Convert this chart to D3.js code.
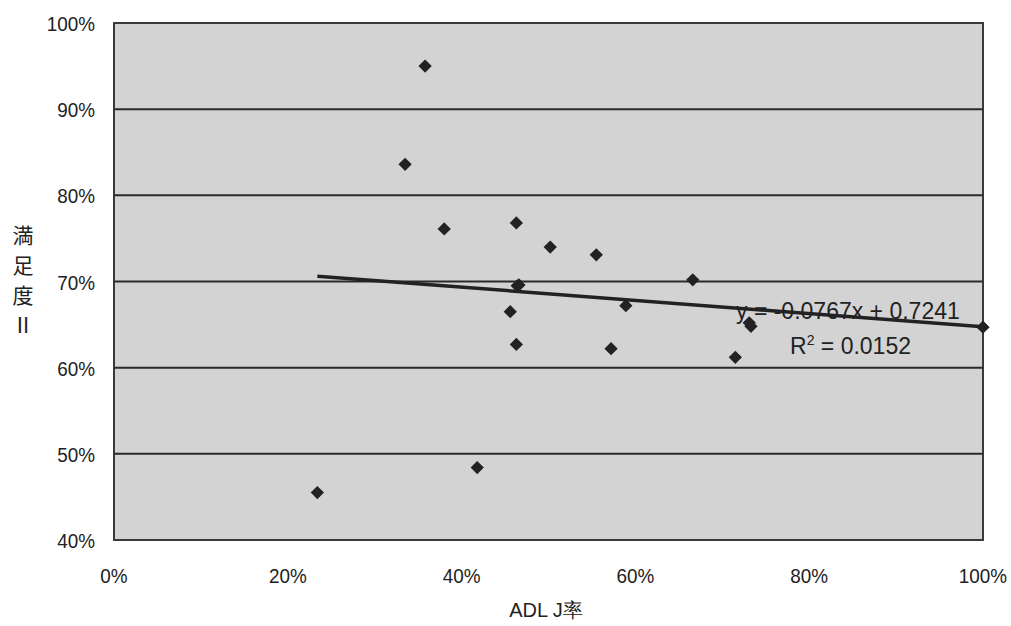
<!DOCTYPE html>
<html>
<head>
<meta charset="utf-8">
<script src="https://cdn.jsdelivr.net/npm/d3@7.9.0/dist/d3.min.js"></script>
<style>
  body { margin: 0; background: #fff; }
  text { font-family: "Liberation Sans", Arial, sans-serif; fill: #222; }
</style>
</head>
<body>
<svg id="chart" width="1011" height="626"></svg>
<script>
// ADL J rate (x) vs satisfaction II (y)
const adlRate = [0.358, 0.335, 0.380, 0.463, 0.502, 0.555, 0.666, 0.464, 0.466,
                 0.589, 0.456, 0.463, 0.572, 0.731, 0.733, 0.715, 1.000, 0.418, 0.234];
const satisfaction = [0.950, 0.836, 0.761, 0.768, 0.740, 0.731, 0.702, 0.695, 0.696,
                      0.672, 0.665, 0.627, 0.622, 0.652, 0.648, 0.612, 0.647, 0.484, 0.455];
const xTicks = [0, 0.2, 0.4, 0.6, 0.8, 1.0];
const yTicks = [0.4, 0.5, 0.6, 0.7, 0.8, 0.9, 1.0];
const slope = -0.0767, intercept = 0.7241;
const eqLabel = 'y = -0.0767x + 0.7241';

const svg = d3.select('#chart');
const plotLeft = 114, plotRight = 983, plotTop = 23, plotBottom = 540;

const x = d3.scaleLinear().domain([0, 1]).range([plotLeft, plotRight]);
const y = d3.scaleLinear().domain([0.4, 1]).range([plotBottom, plotTop]);
const pct = d3.format('.0%');

// plot background
svg.append('rect')
    .attr('x', plotLeft).attr('y', plotTop)
    .attr('width', plotRight - plotLeft).attr('height', plotBottom - plotTop)
    .attr('fill', '#d3d3d3')
    .attr('stroke', '#3a3a3a')
    .attr('stroke-width', 2);

// gridlines
svg.append('g')
    .selectAll('line')
    .data(yTicks.filter(d => d > 0.4 && d < 1))
    .join('line')
    .attr('x1', plotLeft).attr('x2', plotRight)
    .attr('y1', d => y(d)).attr('y2', d => y(d))
    .attr('stroke', '#2a2a2a')
    .attr('stroke-width', 2);

// y tick labels (slightly condensed like the original)
svg.append('g')
    .selectAll('text')
    .data(yTicks)
    .join('text')
    .attr('transform', d => `translate(95,${y(d) + 8}) scale(0.9,1)`)
    .attr('text-anchor', 'end')
    .attr('font-size', 21)
    .text(pct);

// x tick labels
svg.append('g')
    .selectAll('text')
    .data(xTicks)
    .join('text')
    .attr('transform', d => `translate(${x(d)},583) scale(0.9,1)`)
    .attr('text-anchor', 'middle')
    .attr('font-size', 21)
    .text(pct);

// points: square diamonds
let diamond = d3.symbol().type(d3.symbolSquare).size(88);
svg.append('g')
    .selectAll('path')
    .data(adlRate.map((v, i) => [v, satisfaction[i]]))
    .join('path')
    .attr('d', diamond)
    .attr('transform', d => `translate(${x(d[0])},${y(d[1])}) rotate(45)`)
    .attr('fill', '#222');

// trend line
const x0 = d3.min(adlRate), x1 = d3.max(adlRate);
svg.append('line')
    .attr('x1', x(x0)).attr('y1', y(slope * x0 + intercept))
    .attr('x2', x(x1)).attr('y2', y(slope * x1 + intercept))
    .attr('stroke', '#222')
    .attr('stroke-width', 3.5);

// equation
svg.append('text')
    .attr('x', 736).attr('y', 319)
    .attr('font-size', 23)
    .text(eqLabel);
const r2 = svg.append('text')
    .attr('x', 790).attr('y', 354)
    .attr('font-size', 23);
r2.append('tspan').text('R');
r2.append('tspan').attr('font-size', 14).attr('dy', -9).text('2');
r2.append('tspan').attr('dy', 9).text(' = 0.0152');

// axis titles
svg.append('text')
    .attr('x', 546).attr('y', 617)
    .attr('text-anchor', 'middle')
    .attr('font-size', 20)
    .text('ADL J率');

svg.append('g')
    .selectAll('text')
    .data(['満', '足', '度', 'Ⅱ'])
    .join('text')
    .attr('x', 23)
    .attr('y', (d, i) => 243 + i * 30)
    .attr('text-anchor', 'middle')
    .attr('font-size', 21)
    .style('font-family', '"Noto Sans CJK JP", sans-serif')
    .text(d => d);
</script>
</body>
</html>
